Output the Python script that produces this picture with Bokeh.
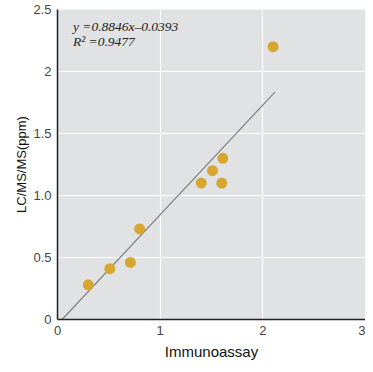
from bokeh.plotting import figure
from bokeh.models import Range1d, Label, FixedTicker
from bokeh.embed import file_html
from bokeh.resources import INLINE

# data
immuno = [0.30, 0.51, 0.71, 0.80, 1.40, 1.51, 1.61, 1.60, 2.10]
lcms = [0.28, 0.41, 0.46, 0.73, 1.10, 1.20, 1.30, 1.10, 2.20]
slope = 0.8846
intercept = -0.0393
fit_x_end = 2.12
x_ticks = [0, 1, 2, 3]
y_ticks = [0, 0.5, 1.0, 1.5, 2.0, 2.5]
y_tick_labels = ["0", "0.5", "1.0", "1.5", "2", "2.5"]
eq_text = "y =0.8846x\u20130.0393"
r2_text = "R\u00b2 =0.9477"

p = figure(width=365, height=364, output_backend="svg", toolbar_location=None,
           x_range=Range1d(0, 3), y_range=Range1d(0, 2.5),
           min_border_left=57, min_border_right=0, min_border_top=9, min_border_bottom=45)
p.frame_width = 308
p.frame_height = 310
p.outline_line_color = None
p.border_fill_color = "white"
p.background_fill_color = "#e1e2e4"

p.xgrid.ticker = FixedTicker(ticks=x_ticks)
p.ygrid.ticker = FixedTicker(ticks=y_ticks)
p.grid.grid_line_color = "white"
p.grid.grid_line_width = 1.2

p.xaxis.ticker = FixedTicker(ticks=x_ticks)
p.yaxis.ticker = FixedTicker(ticks=y_ticks)
p.yaxis.major_label_overrides = {t: l for t, l in zip(y_ticks, y_tick_labels)}
for ax in (p.xaxis, p.yaxis):
    ax.major_tick_line_color = None
    ax.minor_tick_line_color = None
    ax.axis_line_color = "#222222"
    ax.axis_line_width = 1.5
    ax.major_label_text_font = "Liberation Sans"
    ax.major_label_text_font_size = "13px"
    ax.major_label_text_color = "#444444"
    ax.axis_label_text_font = "Liberation Sans"
    ax.axis_label_text_font_style = "normal"
    ax.axis_label_text_color = "#111111"
p.xaxis.axis_label = "Immunoassay"
p.xaxis.axis_label_text_font_size = "15px"
p.xaxis.major_label_standoff = 0
p.xaxis.axis_label_standoff = 5
p.yaxis.axis_label = "LC/MS/MS(ppm)"
p.yaxis.axis_label_text_font_size = "13px"
p.yaxis.major_label_standoff = 0
p.yaxis.axis_label_standoff = 1

x0 = -intercept / slope
xs = [x0, fit_x_end]
ys = [slope * x + intercept for x in xs]
p.line(xs, ys, line_color="#808080", line_width=1.2)

p.scatter(immuno, lcms, size=11, fill_color="#d6a630", line_color=None)

p.add_layout(Label(x=0.15, y=2.365, text=eq_text, text_font="Liberation Serif",
                   text_font_style="italic", text_font_size="13.5px", text_color="#222222",
                   text_baseline="middle"))
p.add_layout(Label(x=0.15, y=2.245, text=r2_text, text_font="Liberation Serif",
                   text_font_style="italic", text_font_size="13.5px", text_color="#222222",
                   text_baseline="middle"))

open("out.html", "w").write(file_html(p, INLINE))
